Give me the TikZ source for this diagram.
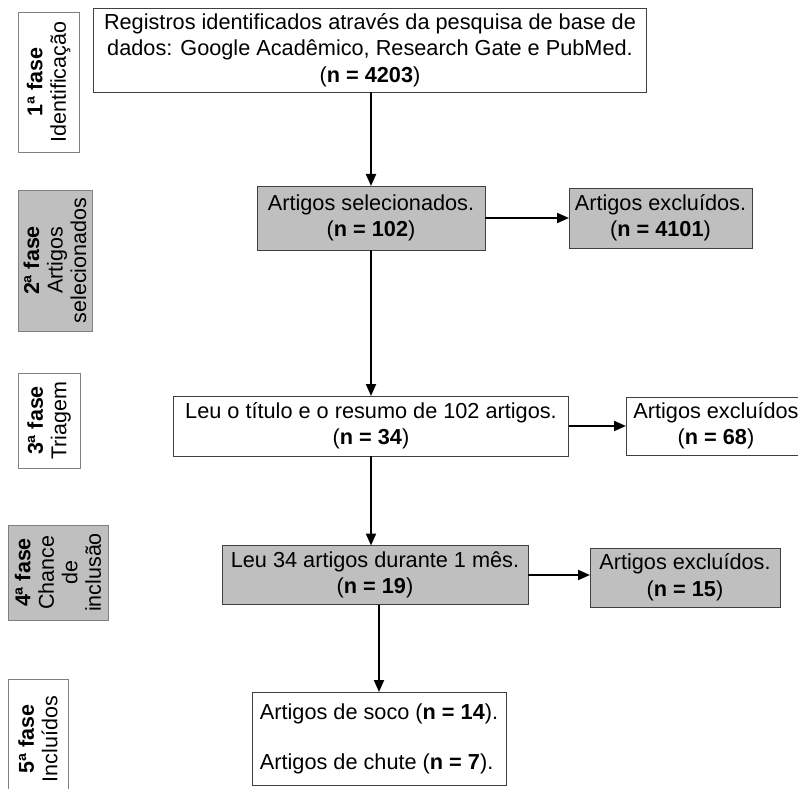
\documentclass[tikz,border=0pt]{standalone}
\usepackage{fontspec}
\setmainfont{Liberation Sans}
\usetikzlibrary{arrows.meta}
\begin{document}
\begin{tikzpicture}[x=1pt,y=-1pt,
  caixa/.style={draw=black!75,line width=0.8pt,align=center,inner sep=0pt,outer sep=0pt,font=\fontsize{21.7}{26.5}\selectfont},
  cinza/.style={caixa,fill=black!25},
  fase/.style={draw=black!50,line width=0.8pt,align=center,rotate=90,inner sep=0pt,outer sep=0pt,font=\fontsize{21.5}{23.5}\selectfont},
  seta/.style={-{Triangle[length=12pt,width=10pt]},line width=2pt}]

\clip (0,0) rectangle (798,789);

\node[fase,minimum width=140pt,minimum height=61pt] (f1) at (48.5,82) {\textbf{1ª fase}\\Identificação};
\node[fase,fill=black!25,minimum width=141pt,minimum height=74pt] (f2) at (55,260.5) {\textbf{2ª fase}\\Artigos\\selecionados};
\node[fase,minimum width=95pt,minimum height=62pt] (f3) at (49,420.5) {\textbf{3ª fase}\\Triagem};
\node[fase,fill=black!25,minimum width=95pt,minimum height=100pt] (f4) at (58,572.5) {\textbf{4ª fase}\\Chance\\de\\inclusão};
\node[fase,minimum width=120pt,minimum height=60pt] (f5) at (38,739) {\textbf{5ª fase}\\Incluídos};

\node[caixa,minimum width=553pt,minimum height=84pt] (reg) at (370,50)
  {Registros identificados através da pesquisa de base de\\dados: Google Acadêmico, Research Gate e PubMed.\\(\textbf{n = 4203})};
\node[cinza,minimum width=228pt,minimum height=64pt] (sel) at (371,218) {Artigos selecionados.\\(\textbf{n = 102})};
\node[cinza,minimum width=183pt,minimum height=60pt] (exc1) at (660.5,218) {Artigos excluídos.\\(\textbf{n = 4101})};
\node[caixa,minimum width=395pt,minimum height=60pt] (tri) at (371,426) {Leu o título e o resumo de 102 artigos.\\(\textbf{n = 34})};
\node[caixa,minimum width=180pt,minimum height=58pt] (exc2) at (716,426) {Artigos excluídos\\(\textbf{n = 68})};
\node[cinza,minimum width=306pt,minimum height=59pt] (cha) at (375,575) {Leu 34 artigos durante 1 mês.\\(\textbf{n = 19})};
\node[cinza,minimum width=190pt,minimum height=59pt] (exc3) at (685,577.5) {Artigos excluídos.\\(\textbf{n = 15})};
\node[caixa,align=left,minimum width=254pt,minimum height=93pt] (inc) at (379,738.5)
  {Artigos de soco (\textbf{n = 14}).\\[23.5pt]Artigos de chute (\textbf{n = 7}).};

\draw[seta] (reg.south -| sel.north) -- (sel.north);
\draw[seta] (sel.east) -- (exc1.west);
\draw[seta] (sel.south) -- (tri.north -| sel.south);
\draw[seta] (tri.east) -- (exc2.west);
\draw[seta] (tri.south) -- (cha.north -| tri.south);
\draw[seta] (cha.east) -- (cha.east -| exc3.west);
\draw[seta] (cha.south -| inc.north) -- (inc.north);
\end{tikzpicture}
\end{document}
